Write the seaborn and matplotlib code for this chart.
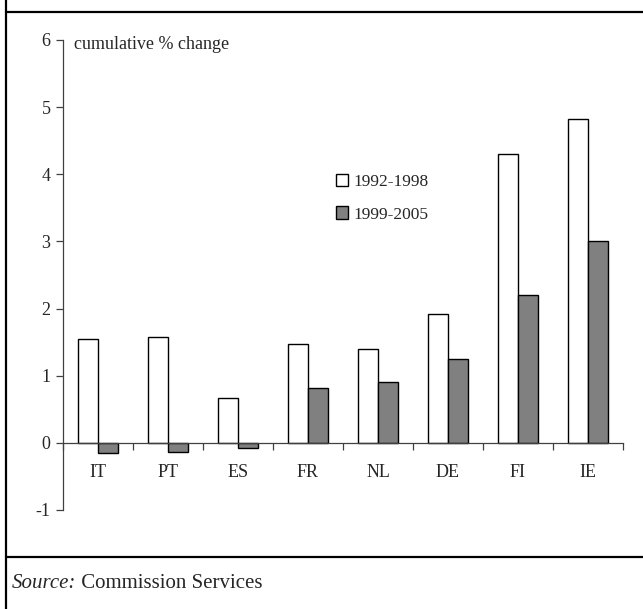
import numpy as np
import pandas as pd
import matplotlib
matplotlib.use("Agg")
import matplotlib.pyplot as plt
from matplotlib.lines import Line2D
import seaborn as sns

# data
countries = ["IT", "PT", "ES", "FR", "NL", "DE", "FI", "IE"]
periods = ["1992-1998", "1999-2005"]
vals_9298 = [1.54, 1.57, 0.67, 1.47, 1.40, 1.92, 4.30, 4.82]
vals_9905 = [-0.15, -0.13, -0.08, 0.81, 0.90, 1.25, 2.20, 3.00]

df = pd.DataFrame({
    "country": countries * 2,
    "period": [periods[0]] * len(countries) + [periods[1]] * len(countries),
    "value": vals_9298 + vals_9905,
})

sns.set_style("white")
plt.rcParams["font.family"] = ["Liberation Serif", "DejaVu Serif"]
plt.rcParams["axes.unicode_minus"] = False
fs = 13

fig = plt.figure(figsize=(6.43, 6.09), dpi=100)
ax = fig.add_axes([63 / 643, 1 - 510 / 609, 560 / 643, 470 / 609])

sns.barplot(data=df, x="country", y="value", hue="period", order=countries,
            hue_order=periods, palette=["white", "#808080"], edgecolor="black",
            linewidth=1.0, width=0.57, gap=0, ax=ax, legend=True)

ax.set_xlim(-0.5, 7.5)
ax.set_ylim(-1, 6)
ax.set_yticks(range(-1, 7))
ax.set_xlabel("")
ax.set_ylabel("")

axis_col = "#404040"
for s in ["top", "right"]:
    ax.spines[s].set_visible(False)
ax.spines["left"].set_color(axis_col)
ax.spines["bottom"].set_color(axis_col)
ax.spines["left"].set_linewidth(0.9)
ax.spines["bottom"].set_linewidth(0.9)
ax.spines["bottom"].set_position(("data", 0))

ax.tick_params(axis="y", direction="out", length=5, width=0.9, color=axis_col,
               labelsize=fs, pad=4, left=True)
ax.tick_params(axis="x", which="major", length=0, pad=15, labelsize=fs)
ax.set_xticks(np.arange(-0.5, 8, 1), minor=True)
ax.tick_params(axis="x", which="minor", direction="out", length=5, width=0.9,
               color=axis_col, bottom=True)

ax.text(0.02, 0.99, "cumulative % change", transform=ax.transAxes,
        ha="left", va="center", fontsize=fs)

ax.legend(loc="upper left", bbox_to_anchor=(0.475, 0.73), frameon=False,
          handlelength=0.7, handleheight=0.7, handletextpad=0.3,
          labelspacing=0.95, fontsize=12.5, borderaxespad=0)

# outer frame lines of the report box
lw = 1.6
fig.add_artist(Line2D([6 / 643, 6 / 643], [0, 1], transform=fig.transFigure,
                      color="black", lw=lw))
for yp in [12, 557]:
    fig.add_artist(Line2D([6 / 643, 1], [1 - yp / 609, 1 - yp / 609],
                          transform=fig.transFigure, color="black", lw=lw))

t1 = fig.text(12 / 643, 1 - 583 / 609, "Source:", style="italic",
              ha="left", va="center", fontsize=15)
ax.annotate(" Commission Services", xy=(1, 0.5), xycoords=t1,
            ha="left", va="center", fontsize=15, annotation_clip=False)

fig.savefig("out.png", dpi=100)
